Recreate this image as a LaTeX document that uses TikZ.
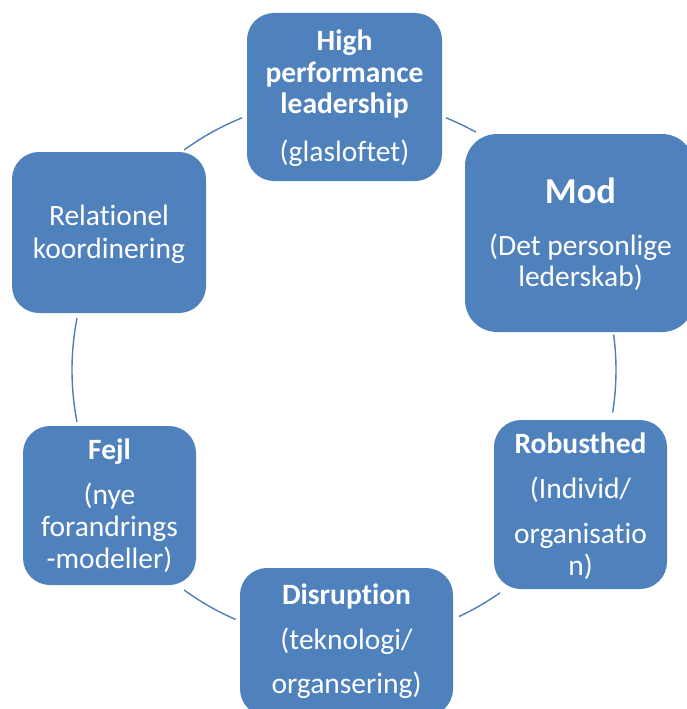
\documentclass[tikz,border=0pt]{standalone}
\usepackage{fontspec}
\setmainfont{Carlito}[Ligatures=NoCommon]
\usetikzlibrary{calc}
\definecolor{boxblue}{HTML}{4F81BD}
\definecolor{arcblue}{HTML}{4A7EBB}
\begin{document}
\begin{tikzpicture}[x=1pt,y=-1pt,
  box/.style={draw=none,fill=boxblue,rounded corners=27pt,inner sep=0pt,rectangle},
  txt/.style={text=white,anchor=base,inner sep=0pt,font=\fontsize{29.5}{31}\selectfont},
  btxt/.style={txt,font=\fontsize{29.5}{31}\selectfont\bfseries},
  arcline/.style={draw=arcblue,line width=1.4pt}]
\useasboundingbox (0,0) rectangle (687,709);
\clip (0,0) rectangle (687,709);
\coordinate (c) at (344,370);
% arcs
\draw[arcline] ($(c)+(126:272pt)$) arc[start angle=126,end angle=112,radius=272pt];
\draw[arcline] ($(c)+(68:272pt)$) arc[start angle=68,end angle=61,radius=272pt];
\draw[arcline] ($(c)+(7.5:272pt)$) arc[start angle=7.5,end angle=-9,radius=272pt];
\draw[arcline] ($(c)+(-55:272pt)$) arc[start angle=-55,end angle=-65,radius=272pt];
\draw[arcline] ($(c)+(-113.5:272pt)$) arc[start angle=-113.5,end angle=-126,radius=272pt];
\draw[arcline] ($(c)+(191:272pt)$) arc[start angle=191,end angle=169,radius=272pt];
% boxes
\node[box,minimum width=195pt,minimum height=168pt] (hp) at (344.5,97) {};
\node[box,minimum width=229pt,minimum height=198pt,rounded corners=32pt] (mod) at (579.5,233) {};
\node[box,minimum width=173pt,minimum height=169pt] (rob) at (580.5,504.5) {};
\node[box,minimum width=213pt,minimum height=148pt] (dis) at (346.5,642) {};
\node[box,minimum width=173pt,minimum height=159pt] (fejl) at (109.5,505.5) {};
\node[box,minimum width=194pt,minimum height=161pt] (rel) at (109,232.5) {};
% texts
\node[btxt] (hp1) at (344.5,51) {High};
\node[btxt] (hp2) at (344.5,82) {performance};
\node[btxt] (hp3) at (344.5,113) {leadership};
\node[txt] (hp4) at (344.5,161) {(glasloftet)};
\node[txt,font=\fontsize{36.5}{38}\selectfont\bfseries] (mod1) at (580.5,203) {Mod};
\node[txt] (mod2) at (580.5,255) {(Det personlige};
\node[txt] (mod3) at (580.5,286) {lederskab)};
\node[txt] (rel1) at (109,225) {Relationel};
\node[txt] (rel2) at (109,258) {koordinering};
\node[btxt] (fejl1) at (109.5,459) {Fejl};
\node[txt] (fejl2) at (109.5,504) {(nye};
\node[txt] (fejl3) at (109.5,536) {forandrings};
\node[txt] (fejl4) at (109.5,568) {-modeller)};
\node[btxt] (rob1) at (580.5,453) {Robusthed};
\node[txt] (rob2) at (580.5,498) {(Individ/};
\node[txt] (rob3) at (580.5,543) {organisatio};
\node[txt] (rob4) at (580.5,575) {n)};
\node[btxt] (dis1) at (346.5,604) {Disruption};
\node[txt] (dis2) at (346.5,649) {(teknologi/};
\node[txt] (dis3) at (346.5,693) {organsering)};
\end{tikzpicture}
\end{document}
